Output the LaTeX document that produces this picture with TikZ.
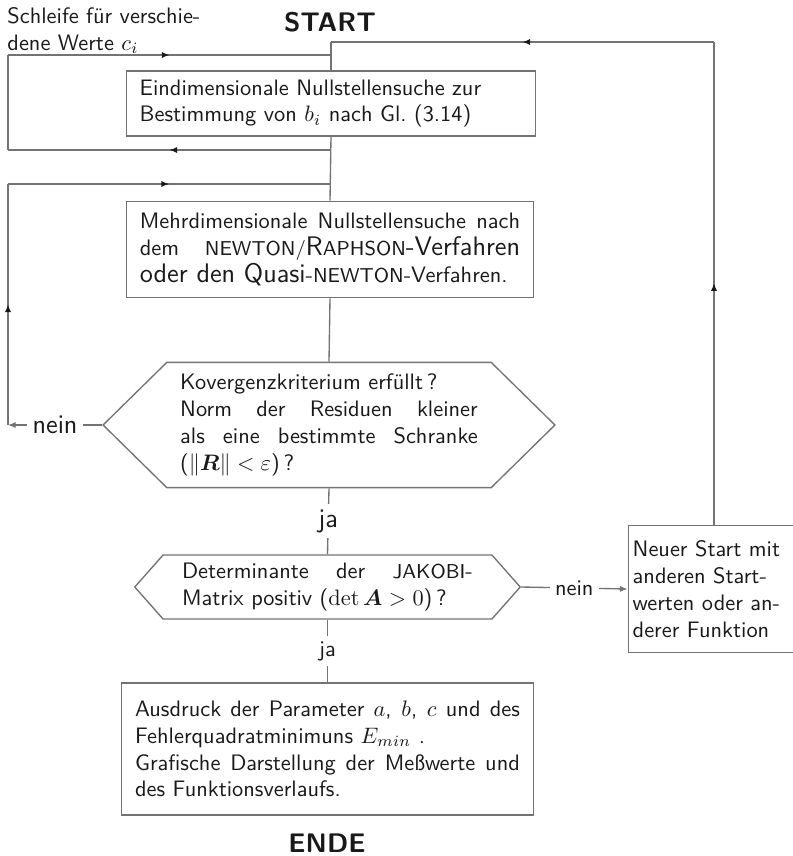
\documentclass[tikz,border=0pt]{standalone}
\usepackage{amssymb, amsmath}
\usepackage{tikz}
\usetikzlibrary{arrows.meta, shapes.symbols, decorations.markings}
\definecolor{linegray}{gray}{0.45}
\definecolor{textdark}{gray}{0.1}

\begin{document}
\begin{tikzpicture}[x=0.447pt, y=-0.447pt, font=\sffamily, text=textdark,
  box/.style={draw=linegray, line width=0.6pt, inner xsep=6pt, inner ysep=3pt, align=justify},
  hex/.style={signal, signal to=west and east, draw=linegray, line width=0.6pt, align=justify},
  verbindung/.style={draw=linegray, line width=0.6pt},
  midarrow/.style={postaction={decorate}, decoration={markings,
    mark=at position 0.5 with {\arrow[textdark]{Latex[length=3.4pt, width=2.8pt]}}}},
  endarrow/.style={-{Latex[length=3.4pt, width=2.8pt]}},
  antwort/.style={fill=white, inner sep=2.5pt}]

  \useasboundingbox (0,0) rectangle (793,856);

  % Knoten
  \node[font=\sffamily\large\bfseries] (start) at (330,22) {START};
  \node[anchor=north west, align=left, inner sep=0pt] (schleife) at (7,7)
    {Schleife für verschie-\\dene Werte $c_i$};
  \node[box, text width=171pt, minimum height=29pt, align=left] (eindim) at (331,103.5)
    {Eindimensionale Nullstellensuche zur\\ Bestimmung von $b_i$ nach Gl.~(3.14)};
  \node[box, text width=170pt, minimum height=43pt] (mehrdim) at (330,249.5)
    {Mehrdimensionale Nullstellensuche nach\linebreak
     dem {\small NEWTON/}{\large R}{\small APHSON}{\large -Verfahren}\linebreak
     {\large oder den Quasi}-{\small NEWTON}-Verfahren.};
  \node[hex, text width=133pt, inner xsep=6pt, minimum height=56pt, signal pointer angle=89] (konv) at (329,425)
    {Kovergenzkriterium erfüllt\,?\\
     Norm der Residuen kleiner\linebreak
     als eine bestimmte Schranke\linebreak
     ($\|\boldsymbol{R}\|<\varepsilon$)\,?};
  \node[hex, text width=130pt, inner xsep=8.5pt, minimum height=28.6pt, signal pointer angle=97] (jakobi) at (327.5,587)
    {Determinante der {\small JAKOBI}-\linebreak
     Matrix positiv ($\det\boldsymbol{A}>0$)\,?};
  \node[box, text width=70pt, inner xsep=2pt, minimum height=57pt, align=left] (neustart) at (711,589)
    {Neuer Start mit\\ anderen Start-\\ werten oder an-\\ derer Funktion};
  \node[box, text width=172pt, minimum height=59pt] (ausgabe) at (327.5,749)
    {Ausdruck der Parameter $a$, $b$, $c$ und des\linebreak
     Fehlerquadratminimuns $E_{min}$~.\\
     Grafische Darstellung der Meßwerte und\linebreak
     des Funktionsverlaufs.};
  \node[font=\sffamily\large\bfseries, inner sep=0pt] (ende) at (327,843) {ENDE};

  % Eckpunkte der Schleifen
  \coordinate (r1) at (714,42);
  \coordinate (r2) at (331,42);
  \coordinate (c1) at (331,150);
  \coordinate (c2) at (8,150);
  \coordinate (c3) at (8,55);
  \coordinate (c4) at (331,55);
  \coordinate (n1) at (8,425);
  \coordinate (n2) at (8,184);
  \coordinate (n3) at (330,184);

  % Verbindungen
  \draw[verbindung, midarrow] (neustart.north -| r1) -- (r1);
  \draw[verbindung, midarrow] (r1) -- (r2);
  \draw[verbindung] (r2) -- (eindim.north);
  \draw[verbindung] (eindim.south) -- (mehrdim.north);
  \draw[verbindung, midarrow] (c1) -- (c2);
  \draw[verbindung] (c2) -- (c3);
  \draw[verbindung, midarrow] (c3) -- (c4);
  \draw[verbindung] (mehrdim.south) -- (konv.north);
  \draw[verbindung, endarrow] (konv.west) -- node[antwort, font=\sffamily\large] {nein} (n1);
  \draw[verbindung, midarrow] (n1) -- (n2);
  \draw[verbindung, midarrow] (n2) -- (n3);
  \draw[verbindung] (konv.south) -- node[antwort, font=\sffamily\large] {ja} (jakobi.north);
  \draw[verbindung] (jakobi.south) -- node[antwort] {ja} (ausgabe.north);
  \draw[verbindung, endarrow] (jakobi.east) -- node[antwort] {nein} (neustart.west);
\end{tikzpicture}
\end{document}
